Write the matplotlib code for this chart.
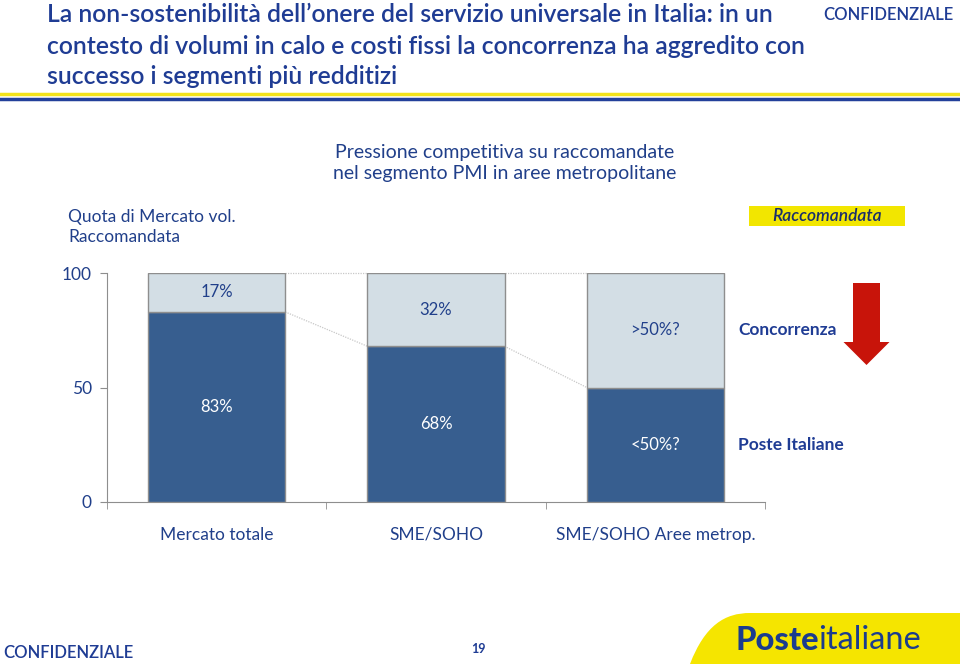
import numpy as np
import matplotlib
matplotlib.use('Agg')
import matplotlib.pyplot as plt
from matplotlib.patches import Rectangle, FancyArrow, PathPatch
from matplotlib.path import Path

plt.rcParams['font.family'] = ['Lato', 'DejaVu Sans']

# data
categories = ['Mercato totale', 'SME/SOHO', 'SME/SOHO Aree metrop.']
poste = [83, 68, 50]
concorrenza = [17, 32, 50]
poste_labels = ['83%', '68%', '<50%?']
conc_labels = ['17%', '32%', '>50%?']
yticks = [0, 50, 100]

W, H = 960, 664
navy = '#1F3C94'
dark = '#375E8F'
light = '#D3DEE5'
edge = '#8E8E8E'
txt = '#203F8A'

def fx(x):
    return x / W

def fy(y):
    return 1 - y / H

fig = plt.figure(figsize=(9.6, 6.64), dpi=100)

# header
title = ['La non-sostenibilità dell\u2019onere del servizio universale in Italia: in un',
         'contesto di volumi in calo e costi fissi la concorrenza ha aggredito con',
         'successo i segmenti più redditizi']
for i, line in enumerate(title):
    fig.text(fx(47), fy(15 + 31 * i), line, fontsize=17.8, fontweight='semibold',
             color=navy, va='center', ha='left')
fig.text(fx(953), fy(15), 'CONFIDENZIALE', fontsize=12, fontweight='semibold',
         color=navy, va='center', ha='right')
fig.add_artist(plt.Line2D([0, 1], [fy(94), fy(94)], color='#F2E21A', lw=2.5))
fig.add_artist(plt.Line2D([0, 1], [fy(98.5), fy(98.5)], color='#22409A', lw=2.5))

fig.text(fx(505), fy(163), 'Pressione competitiva su raccomandate\nnel segmento PMI in aree metropolitane',
         fontsize=14, color=txt, ha='center', va='center', linespacing=1.3)
fig.text(fx(68), fy(227), 'Quota di Mercato vol.\nRaccomandata', fontsize=12.5, color=txt,
         ha='left', va='center', linespacing=1.3)

# yellow tag
fig.add_artist(Rectangle((fx(749), fy(226)), fx(905) - fx(749), fy(206) - fy(226),
                         transform=fig.transFigure, facecolor='#F2E600', edgecolor='none'))
fig.text(fx(827), fy(216), 'Raccomandata', fontsize=12.5, fontstyle='italic',
         fontweight='semibold', color='#1A2F6B', ha='center', va='center')

# chart
ax = fig.add_axes([fx(107), fy(502), fx(765) - fx(107), fy(273) - fy(502)])
x = np.arange(len(categories))
bw = 0.625
ax.bar(x, poste, width=bw, color=dark, edgecolor=edge, linewidth=1, zorder=3)
ax.bar(x, concorrenza, width=bw, bottom=poste, color=light, edgecolor=edge, linewidth=1, zorder=3)

for i in range(len(categories)):
    ax.text(x[i], poste[i] / 2, poste_labels[i], ha='center', va='center',
            color='white', fontsize=12)
    ax.text(x[i], poste[i] + concorrenza[i] / 2, conc_labels[i], ha='center', va='center',
            color=txt, fontsize=12)

for i in range(len(categories) - 1):
    x0 = x[i] + bw / 2
    x1 = x[i + 1] - bw / 2
    ax.plot([x0, x1], [poste[i], poste[i + 1]], color='#C8C8C8', lw=0.9, ls=(0, (1, 1)), zorder=2)
    ax.plot([x0, x1], [poste[i] + concorrenza[i], poste[i + 1] + concorrenza[i + 1]],
            color='#C8C8C8', lw=0.9, ls=(0, (1, 1)), zorder=2, clip_on=False)

ax.set_xlim(-0.5, len(categories) - 0.5)
ax.set_ylim(0, 100)
ax.set_yticks(yticks)
ax.set_xticks(x)
ax.set_xticklabels(categories)
ax.set_xticks(np.arange(-0.5, len(categories)), minor=True)
ax.tick_params(axis='x', which='major', length=0, pad=18, labelsize=12.5, labelcolor=txt)
ax.tick_params(axis='x', which='minor', length=5, color=edge, direction='out')
ax.tick_params(axis='y', length=5, color=edge, pad=6, labelsize=12.5, labelcolor=txt)
for s in ['top', 'right']:
    ax.spines[s].set_visible(False)
for s in ['left', 'bottom']:
    ax.spines[s].set_color(edge)
ax.patch.set_alpha(0)

# legend-like labels and arrow
fig.text(fx(738), fy(330), 'Concorrenza', fontsize=12.5, fontweight='bold', color=navy,
         ha='left', va='center')
fig.text(fx(738), fy(445), 'Poste Italiane', fontsize=12.5, fontweight='bold', color=navy,
         ha='left', va='center')
fig.add_artist(FancyArrow(fx(866.5), fy(283), 0, fy(365) - fy(283), width=fx(27),
                          head_width=fx(46), head_length=fy(342) - fy(365),
                          length_includes_head=True, transform=fig.transFigure,
                          facecolor='#C8140A', edgecolor='none'))

# footer
fig.text(fx(3), fy(653), 'CONFIDENZIALE', fontsize=12, fontweight='semibold', color=navy,
         ha='left', va='center')
fig.text(fx(478), fy(649), '19', fontsize=9, fontweight='bold', color=navy,
         ha='center', va='center')
verts = [(fx(690), fy(664)), (fx(705), fy(625)), (fx(725), fy(613)), (fx(750), fy(613)),
         (1, fy(613)), (1, 0), (fx(690), 0), (fx(690), fy(664))]
codes = [Path.MOVETO, Path.CURVE4, Path.CURVE4, Path.CURVE4,
         Path.LINETO, Path.LINETO, Path.LINETO, Path.CLOSEPOLY]
fig.add_artist(PathPatch(Path(verts, codes), transform=fig.transFigure,
                         facecolor='#F5E500', edgecolor='none'))
t = fig.text(fx(735), fy(640), 'Poste', fontsize=23.5, fontweight='black', color='#1B3C8E',
             ha='left', va='center')
fig.canvas.draw()
bb = t.get_window_extent()
fig.text(bb.x1 / W, fy(640), 'italiane', fontsize=23.5, color='#1B3C8E', ha='left', va='center')

fig.savefig('out.png', dpi=100)
